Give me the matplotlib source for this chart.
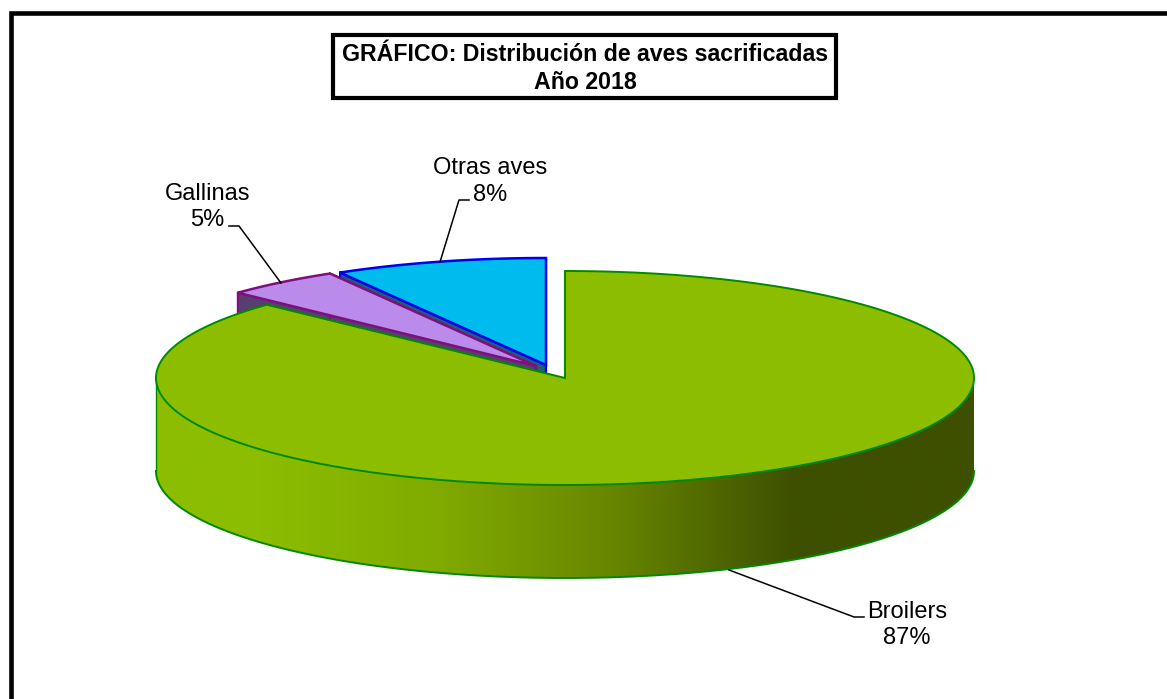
"""3D pie: distribución de aves sacrificadas, año 2018."""

import numpy as np
import matplotlib
matplotlib.use('Agg')
import matplotlib.pyplot as plt
from matplotlib.patches import Polygon, Rectangle

plt.rcParams['font.family'] = ['Liberation Sans', 'DejaVu Sans']

categories = ['Broilers', 'Gallinas', 'Otras aves']
shares = [87.0, 4.6, 8.4]

W, H = 1167, 699
RX, RY, DEPTH = 409, 107, 93

# apex of each slice in pixels (the two small slices are pulled out)
centers = [(565, 378), (536, 366), (546, 365)]
top_colors = ['#8CBD00', '#BB8BEC', '#00BBEE']
edge_colors = ['#008A00', '#7F0F7F', '#0000F0']
side_colors = ['#8CBD00', '#55406F', '#1F5F78']

fig = plt.figure(figsize=(W / 100, H / 100), dpi=100)
ax = fig.add_axes([0, 0, 1, 1])
ax.set_xlim(0, W)
ax.set_ylim(H, 0)
ax.axis('off')


def rim(center, a0, a1, n=200):
    t = np.radians(np.linspace(a0, a1, n))
    return center[0] + RX * np.cos(t), center[1] - RY * np.sin(t)


def draw_slice(center, a0, a1, face, edge, side, zorder):
    x, y = rim(center, a0, a1)
    # straight cut wall towards the viewer
    for ang in (a0, a1):
        px, py = rim(center, ang, ang, 1)
        wall = [center, (px[0], py[0]), (px[0], py[0] + DEPTH),
                (center[0], center[1] + DEPTH)]
        ax.add_patch(Polygon(wall, closed=True, fc=side, ec=edge, lw=1.5,
                             zorder=zorder))
    top = np.column_stack([np.r_[center[0], x], np.r_[center[1], y]])
    ax.add_patch(Polygon(top, closed=True, fc=face, ec=edge, lw=1.8,
                         zorder=zorder + 0.5))


# slices run clockwise from 12 o'clock
angles = 90 - 360 * np.cumsum([0] + shares) / sum(shares)

# small slices go first, the big slice covers their walls
draw_slice(centers[2], angles[2], angles[3], top_colors[2], edge_colors[2],
           side_colors[2], 2)
draw_slice(centers[1], angles[1], angles[2], top_colors[1], edge_colors[1],
           side_colors[1], 3)

# Broilers outer wall, shaded left to right
c0 = centers[0]
bx, by = rim(c0, 180, 360, 400)
stops_x = [0.0, 0.13, 0.35, 0.55, 0.78, 1.0]
stops_rgb = np.array([[140, 189, 0], [140, 189, 0], [128, 170, 0],
                      [104, 136, 0], [62, 80, 0], [62, 80, 0]]) / 255
u = np.linspace(0, 1, 400)
grad = np.stack([np.interp(u, stops_x, stops_rgb[:, i]) for i in range(3)],
                axis=-1)[None, :, :]
img = ax.imshow(grad, extent=[c0[0] - RX, c0[0] + RX, c0[1] + RY + DEPTH,
                              c0[1] - RY],
                aspect='auto', zorder=4, interpolation='bilinear')
wall_xy = np.column_stack([np.r_[bx, bx[::-1]], np.r_[by, by[::-1] + DEPTH]])
wall = Polygon(wall_xy, closed=True, fc='none', ec='none', transform=ax.transData)
ax.add_patch(wall)
img.set_clip_path(wall)
ax.set_xlim(0, W)
ax.set_ylim(H, 0)
ax.plot(bx, by + DEPTH, color=edge_colors[0], lw=1.4, zorder=4.2)
ax.plot([bx[0], bx[0]], [by[0], by[0] + DEPTH], color=edge_colors[0], lw=1.0,
        zorder=4.2)

# Broilers top face
x, y = rim(c0, angles[0], angles[1], 500)
top = np.column_stack([np.r_[c0[0], x], np.r_[c0[1], y]])
ax.add_patch(Polygon(top, closed=True, fc=top_colors[0], ec=edge_colors[0],
                     lw=1.4, zorder=5))

# data labels with leader lines
label_xy = [(907, 625), (207.5, 207), (490, 181.5)]
leaders = [
    [(864, 617), (854, 617), (729, 570)],
    [(229, 226), (239, 226), (281, 283)],
    [(469, 200), (459, 200), (440, 262)],
]
for name, share, pos, line in zip(categories, shares, label_xy, leaders):
    lx, ly = zip(*line)
    ax.plot(lx, ly, color='black', lw=1.1, zorder=6)
    ax.text(pos[0], pos[1], f'{name}\n{share:.0f}%', ha='center', va='center',
            fontsize=17, linespacing=1.28, color='black', zorder=7)

# title box
ax.add_patch(Rectangle((333, 35), 503, 62.5, fc='white', ec='black', lw=3,
                       zorder=8))
ax.text(585, 68.5, 'GRÁFICO: Distribución de aves sacrificadas\nAño 2018',
        ha='center', va='center', fontsize=16.7, fontweight='bold',
        linespacing=1.28, color='black', zorder=9)

# outer frame runs off the right and bottom of the picture
ax.plot([11, 11, W + 5], [H + 5, 12.5, 12.5], color='black', lw=3.3,
        solid_joinstyle='miter', zorder=1, clip_on=True)

fig.savefig('out.png', dpi=100)
